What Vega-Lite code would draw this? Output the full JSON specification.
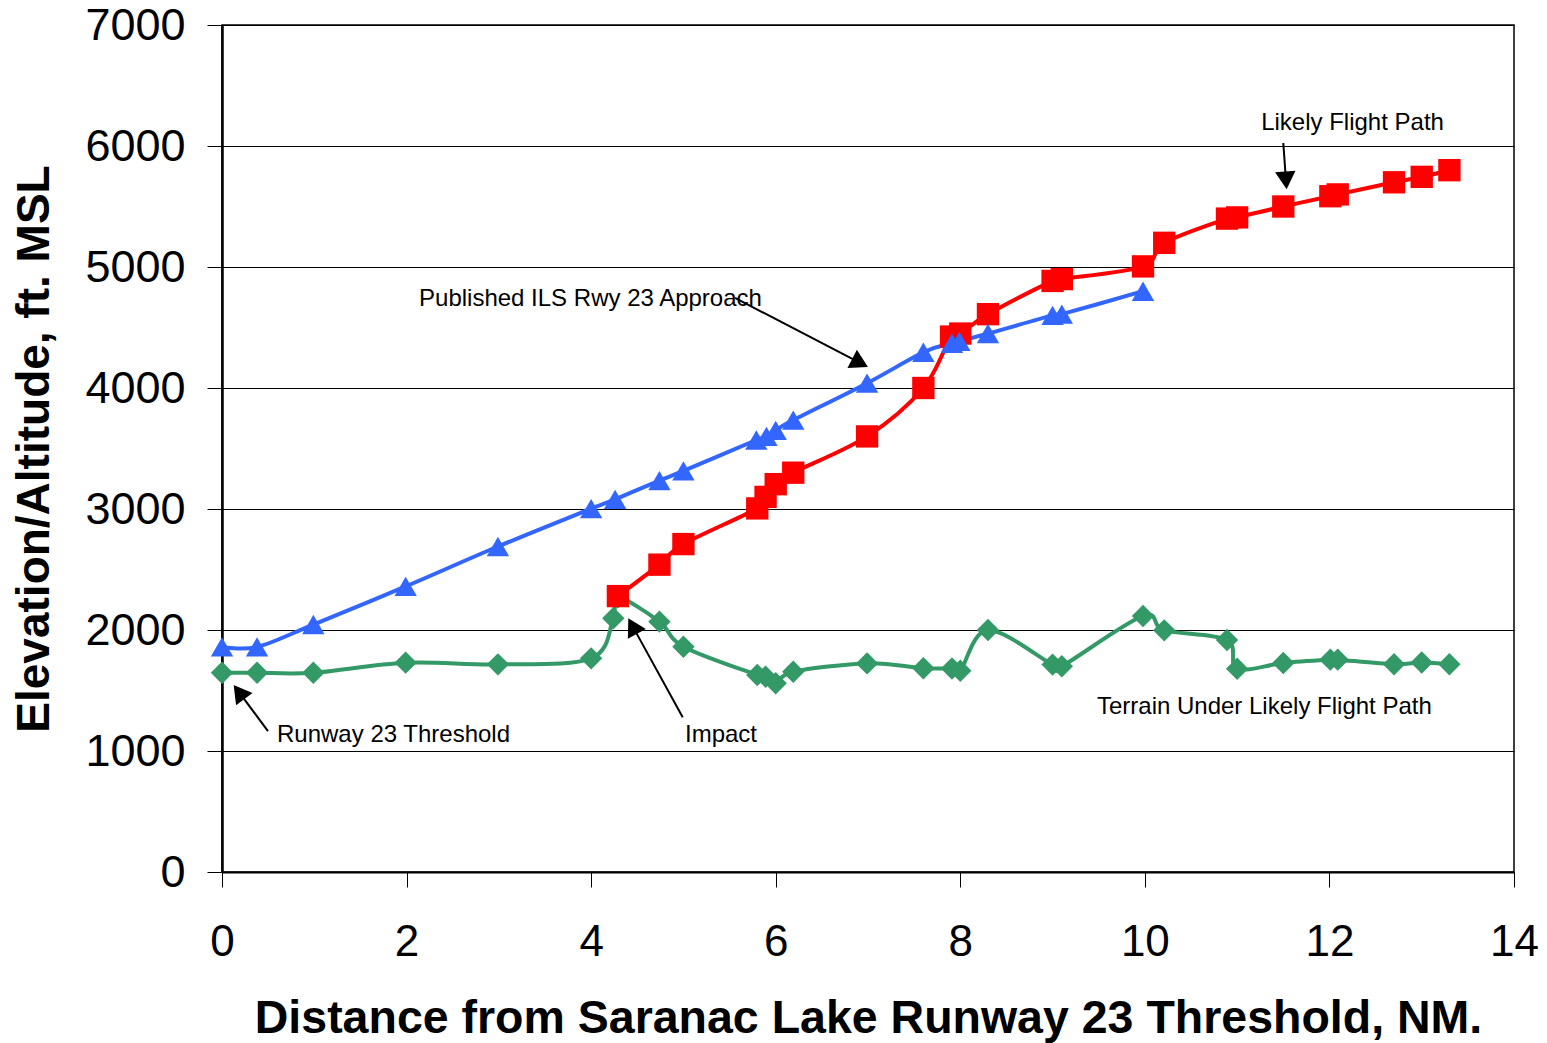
{
  "$schema": "https://vega.github.io/schema/vega-lite/v6.json",
  "width": 1292,
  "height": 847,
  "autosize": {"type": "none"},
  "padding": {"left": 222, "top": 25, "right": 33, "bottom": 171},
  "background": "white",
  "config": {
    "view": {"stroke": "black", "strokeWidth": 1.5},
    "font": "Liberation Sans"
  },
  "datasets": {
    "profile": [
      {"series": "Terrain", "nm": 0, "ft": 1647},
      {"series": "Terrain", "nm": 0.38, "ft": 1647},
      {"series": "Terrain", "nm": 0.99, "ft": 1647},
      {"series": "Terrain", "nm": 1.99, "ft": 1730},
      {"series": "Terrain", "nm": 2.99, "ft": 1716},
      {"series": "Terrain", "nm": 4.0, "ft": 1766},
      {"series": "Terrain", "nm": 4.24, "ft": 2097},
      {"series": "Terrain", "nm": 4.29, "ft": 2270},
      {"series": "Terrain", "nm": 4.74, "ft": 2069},
      {"series": "Terrain", "nm": 5.0, "ft": 1862},
      {"series": "Terrain", "nm": 5.8, "ft": 1628},
      {"series": "Terrain", "nm": 5.89, "ft": 1614},
      {"series": "Terrain", "nm": 6.0, "ft": 1560},
      {"series": "Terrain", "nm": 6.19, "ft": 1655},
      {"series": "Terrain", "nm": 6.99, "ft": 1724},
      {"series": "Terrain", "nm": 7.6, "ft": 1684},
      {"series": "Terrain", "nm": 7.91, "ft": 1682},
      {"series": "Terrain", "nm": 8.0, "ft": 1663},
      {"series": "Terrain", "nm": 8.3, "ft": 2000},
      {"series": "Terrain", "nm": 9.0, "ft": 1714},
      {"series": "Terrain", "nm": 9.1, "ft": 1700},
      {"series": "Terrain", "nm": 9.98, "ft": 2116},
      {"series": "Terrain", "nm": 10.21, "ft": 1997},
      {"series": "Terrain", "nm": 10.89, "ft": 1917},
      {"series": "Terrain", "nm": 11.0, "ft": 1680},
      {"series": "Terrain", "nm": 11.5, "ft": 1727},
      {"series": "Terrain", "nm": 12.01, "ft": 1755},
      {"series": "Terrain", "nm": 12.09, "ft": 1755},
      {"series": "Terrain", "nm": 12.7, "ft": 1717},
      {"series": "Terrain", "nm": 13.0, "ft": 1731},
      {"series": "Terrain", "nm": 13.3, "ft": 1717},
      {"series": "Flight", "nm": 4.29, "ft": 2280},
      {"series": "Flight", "nm": 4.74, "ft": 2540},
      {"series": "Flight", "nm": 5.0, "ft": 2710},
      {"series": "Flight", "nm": 5.8, "ft": 3005},
      {"series": "Flight", "nm": 5.89, "ft": 3100},
      {"series": "Flight", "nm": 6.0, "ft": 3205},
      {"series": "Flight", "nm": 6.19, "ft": 3300},
      {"series": "Flight", "nm": 6.99, "ft": 3600},
      {"series": "Flight", "nm": 7.6, "ft": 4000},
      {"series": "Flight", "nm": 7.9, "ft": 4425},
      {"series": "Flight", "nm": 8.0, "ft": 4450},
      {"series": "Flight", "nm": 8.3, "ft": 4610},
      {"series": "Flight", "nm": 9.0, "ft": 4885},
      {"series": "Flight", "nm": 9.1, "ft": 4900},
      {"series": "Flight", "nm": 9.98, "ft": 5005},
      {"series": "Flight", "nm": 10.21, "ft": 5200},
      {"series": "Flight", "nm": 10.89, "ft": 5400},
      {"series": "Flight", "nm": 11.0, "ft": 5410},
      {"series": "Flight", "nm": 11.5, "ft": 5500},
      {"series": "Flight", "nm": 12.01, "ft": 5585},
      {"series": "Flight", "nm": 12.09, "ft": 5600},
      {"series": "Flight", "nm": 12.7, "ft": 5700},
      {"series": "Flight", "nm": 13.0, "ft": 5745},
      {"series": "Flight", "nm": 13.3, "ft": 5800},
      {"series": "ILS", "nm": 0, "ft": 1860},
      {"series": "ILS", "nm": 0.38, "ft": 1860},
      {"series": "ILS", "nm": 0.99, "ft": 2045},
      {"series": "ILS", "nm": 1.99, "ft": 2360},
      {"series": "ILS", "nm": 2.99, "ft": 2690},
      {"series": "ILS", "nm": 4.0, "ft": 3003},
      {"series": "ILS", "nm": 4.26, "ft": 3080},
      {"series": "ILS", "nm": 4.74, "ft": 3235},
      {"series": "ILS", "nm": 5.0, "ft": 3315},
      {"series": "ILS", "nm": 5.79, "ft": 3570},
      {"series": "ILS", "nm": 5.9, "ft": 3600},
      {"series": "ILS", "nm": 6.0, "ft": 3650},
      {"series": "ILS", "nm": 6.19, "ft": 3735},
      {"series": "ILS", "nm": 6.99, "ft": 4040},
      {"series": "ILS", "nm": 7.6, "ft": 4295},
      {"series": "ILS", "nm": 7.91, "ft": 4370},
      {"series": "ILS", "nm": 7.99, "ft": 4385},
      {"series": "ILS", "nm": 8.3, "ft": 4450},
      {"series": "ILS", "nm": 9.0, "ft": 4600},
      {"series": "ILS", "nm": 9.1, "ft": 4610},
      {"series": "ILS", "nm": 9.98, "ft": 4800}
    ],
    "notes": [
      {"label": "Likely Flight Path", "nm": 11.26, "ft": 6132},
      {"label": "Published ILS Rwy 23 Approach", "nm": 2.135, "ft": 4678},
      {"label": "Runway 23 Threshold", "nm": 0.596, "ft": 1074},
      {"label": "Impact", "nm": 5.017, "ft": 1074},
      {"label": "Terrain Under Likely Flight Path", "nm": 9.481, "ft": 1306}
    ],
    "arrows": [
      {"target": "Likely Flight Path", "nm": 11.5, "ft": 6025, "nm2": 11.529, "ft2": 5716, "rot": 175.6},
      {"target": "Published ILS Rwy 23 Approach", "nm": 5.559, "ft": 4744, "nm2": 6.914, "ft2": 4207, "rot": 117.4},
      {"target": "Runway 23 Threshold", "nm": 0.498, "ft": 1165, "nm2": 0.184, "ft2": 1487, "rot": -36.7},
      {"target": "Impact", "nm": 4.992, "ft": 1279, "nm2": 4.449, "ft2": 2032, "rot": -28.8}
    ]
  },
  "layer": [
    {
      "data": {"name": "profile"},
      "mark": {"type": "line", "interpolate": "cardinal", "strokeWidth": 4},
      "encoding": {
        "x": {
          "field": "nm", "type": "quantitative",
          "title": "Distance from Saranac Lake Runway 23 Threshold, NM.",
          "scale": {"domain": [0, 14], "nice": false, "zero": false},
          "axis": {
            "values": [0, 2, 4, 6, 8, 10, 12, 14],
            "format": "d",
            "grid": false,
            "domainColor": "black", "domainWidth": 2,
            "tickColor": "black", "tickWidth": 1, "tickSize": 15,
            "labelFont": "Liberation Sans", "labelFontSize": 44, "labelColor": "black",
            "labelPadding": 33, "labelFlush": false,
            "titleFont": "Liberation Sans", "titleFontSize": 46.5, "titleFontWeight": "bold",
            "titleColor": "black", "titleX": 646, "titleY": 160, "titleBaseline": "alphabetic"
          }
        },
        "y": {
          "field": "ft", "type": "quantitative",
          "title": "Elevation/Altitude, ft. MSL",
          "scale": {"domain": [0, 7000], "nice": false},
          "axis": {
            "values": [0, 1000, 2000, 3000, 4000, 5000, 6000, 7000],
            "format": "d",
            "grid": true, "gridColor": "black", "gridWidth": 1, "gridOpacity": 1,
            "domainColor": "black", "domainWidth": 2.5,
            "tickColor": "black", "tickWidth": 1, "tickSize": 15,
            "labelFont": "Liberation Sans", "labelFontSize": 45, "labelColor": "black",
            "labelPadding": 22, "labelFlush": false,
            "titleFont": "Liberation Sans", "titleFontSize": 46, "titleFontWeight": "bold",
            "titleColor": "black", "titleAngle": 270, "titleX": -174, "titleY": 423.5,
            "titleBaseline": "alphabetic"
          }
        },
        "color": {
          "field": "series", "type": "nominal",
          "scale": {"domain": ["Terrain", "Flight", "ILS"], "range": ["#339966", "#FF0000", "#3366FF"]},
          "legend": null
        }
      }
    },
    {
      "data": {"name": "profile"},
      "mark": {"type": "point", "filled": true, "opacity": 1, "size": 500},
      "encoding": {
        "x": {"field": "nm", "type": "quantitative", "title": "Distance from Saranac Lake Runway 23 Threshold, NM.", "scale": {"domain": [0, 14], "nice": false, "zero": false}},
        "y": {"field": "ft", "type": "quantitative", "title": "Elevation/Altitude, ft. MSL", "scale": {"domain": [0, 7000], "nice": false}},
        "color": {
          "field": "series", "type": "nominal",
          "scale": {"domain": ["Terrain", "Flight", "ILS"], "range": ["#339966", "#FF0000", "#3366FF"]},
          "legend": null
        },
        "shape": {
          "field": "series", "type": "nominal",
          "scale": {"domain": ["Terrain", "Flight", "ILS"], "range": ["diamond", "square", "triangle-up"]},
          "legend": null
        }
      }
    },
    {
      "data": {"name": "arrows"},
      "mark": {"type": "rule", "color": "black", "strokeWidth": 2},
      "encoding": {
        "x": {"field": "nm", "type": "quantitative", "title": "Distance from Saranac Lake Runway 23 Threshold, NM.", "scale": {"domain": [0, 14], "nice": false, "zero": false}},
        "y": {"field": "ft", "type": "quantitative", "title": "Elevation/Altitude, ft. MSL", "scale": {"domain": [0, 7000], "nice": false}},
        "x2": {"field": "nm2"},
        "y2": {"field": "ft2"}
      }
    },
    {
      "data": {"name": "arrows"},
      "mark": {"type": "point", "shape": "triangle-up", "filled": true, "color": "black", "opacity": 1, "size": 420},
      "encoding": {
        "x": {"field": "nm2", "type": "quantitative", "title": "Distance from Saranac Lake Runway 23 Threshold, NM.", "scale": {"domain": [0, 14], "nice": false, "zero": false}},
        "y": {"field": "ft2", "type": "quantitative", "title": "Elevation/Altitude, ft. MSL", "scale": {"domain": [0, 7000], "nice": false}},
        "angle": {"field": "rot", "type": "quantitative", "scale": null}
      }
    },
    {
      "data": {"name": "notes"},
      "mark": {"type": "text", "align": "left", "baseline": "alphabetic", "fontSize": 24, "font": "Liberation Sans", "color": "black"},
      "encoding": {
        "x": {"field": "nm", "type": "quantitative", "title": "Distance from Saranac Lake Runway 23 Threshold, NM.", "scale": {"domain": [0, 14], "nice": false, "zero": false}},
        "y": {"field": "ft", "type": "quantitative", "title": "Elevation/Altitude, ft. MSL", "scale": {"domain": [0, 7000], "nice": false}},
        "text": {"field": "label"}
      }
    }
  ]
}
